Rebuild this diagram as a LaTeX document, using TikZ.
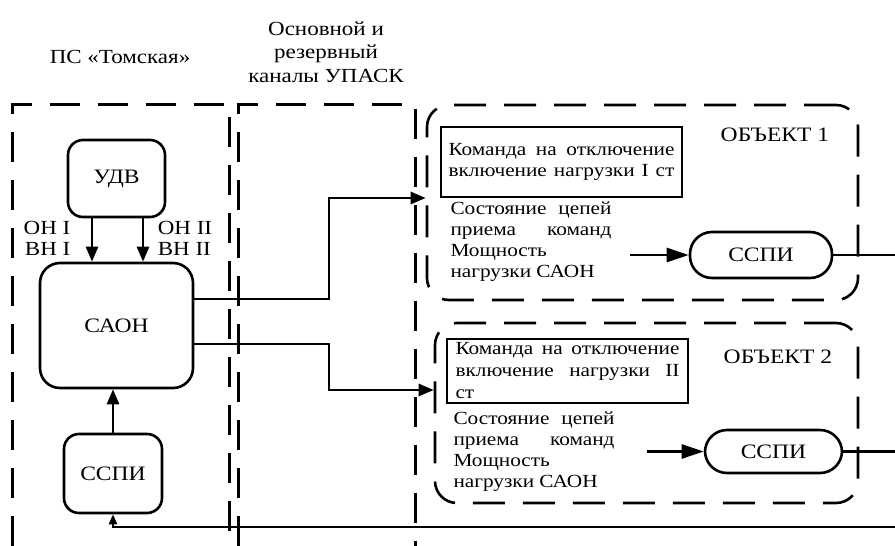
\documentclass[tikz,border=0pt]{standalone}
\usepackage{fontspec}
\setmainfont[FakeStretch=1.15]{Liberation Serif}
\usetikzlibrary{arrows.meta}
\begin{document}
\begin{tikzpicture}[x=1pt,y=-1pt,
  big/.style={font=\fontsize{20.5}{23}\selectfont},
  small/.style={font=\fontsize{18.5}{21}\selectfont},
  blk/.style={draw,line width=2.6pt,rounded corners=15pt,inner sep=0pt,big},
  objbox/.style={draw,line width=2.6pt,dash pattern=on 32pt off 18pt,rounded corners=22pt,inner sep=0pt},
  region/.style={line width=3pt,dash pattern=on 30pt off 18pt},
  cmdbox/.style={draw,line width=1.3pt,inner sep=0pt,small,align=left},
  stad/.style={draw,line width=2.6pt,rounded corners=22pt,inner sep=0pt,big},
  conn/.style={line width=2.6pt},
  arr/.style={line width=2.6pt,-{Triangle[length=15pt,width=12pt]}},
  barr/.style={line width=2.6pt,-{Triangle[length=22pt,width=14pt]}},
  sarr/.style={line width=2.6pt,-{Triangle[length=10pt,width=8pt]}},
  lbl/.style={inner sep=0pt,big,align=center}]
\useasboundingbox (0,0) rectangle (895,546);
% titles
\node[lbl,font=\fontsize{20}{23}\selectfont] (tps) at (120,57) {ПС «Томская»};
\node[lbl,font=\fontsize{20}{23.5}\selectfont] (tch) at (326,52) {Основной и\\резервный\\каналы УПАСК};
% dashed regions
\draw[region] (12,546) -- (12,104) -- (229,104) -- (229,546);
\draw[region] (238,546) -- (238,104) -- (415,104) -- (415,546);
% left side blocks
\node[blk,minimum width=97pt,minimum height=77pt] (udv) at (116.5,178.5) {УДВ};
\node[blk,rounded corners=20pt,minimum width=153pt,minimum height=125pt] (saon) at (116.5,325.5) {САОН};
\node[blk,minimum width=98pt,minimum height=79pt] (sspiL) at (113,473.5) {ССПИ};
\coordinate (c1) at (92,0);
\coordinate (c2) at (143,0);
\draw[arr] (udv.south -| c1) -- (saon.north -| c1);
\draw[arr] (udv.south -| c2) -- (saon.north -| c2);
\node[lbl,font=\fontsize{20}{21}\selectfont,align=right] (lon1) at (47,238) {ОН I\\ВН I};
\node[lbl,font=\fontsize{20}{21}\selectfont,align=left] (lon2) at (185,238) {ОН II\\ВН II};
\draw[arr] (sspiL.north) -- (saon.south -| sspiL.north);
% objects
\node[objbox,minimum width=431pt,minimum height=195pt] (obj1) at (642.5,202.5) {};
\node[objbox,minimum width=423pt,minimum height=180pt] (obj2) at (646.5,413) {};
\node[lbl] (o1t) at (775,135) {ОБЪЕКТ 1};
\node[lbl] (o2t) at (778,357) {ОБЪЕКТ 2};
\node[cmdbox,minimum width=241pt,minimum height=70pt] (cmd1) at (561.5,162)
  {\makebox[226pt][s]{Команда на отключение}\\\makebox[226pt][s]{включение нагрузки I ст}};
\node[cmdbox,minimum width=241pt,minimum height=64pt,font=\fontsize{18.5}{22}\selectfont] (cmd2) at (567.5,371)
  {\makebox[224pt][s]{Команда на отключение}\\\makebox[224pt][s]{включение нагрузки II}\\ст};
\node[inner sep=0pt,small,align=left] (st1) at (531,241.5)
  {\makebox[161pt][s]{Состояние цепей}\\\makebox[161pt][s]{приема команд}\\Мощность\\нагрузки САОН};
\node[inner sep=0pt,small,align=left] (st2) at (534,451.5)
  {\makebox[161pt][s]{Состояние цепей}\\\makebox[161pt][s]{приема команд}\\Мощность\\нагрузки САОН};
\node[stad,minimum width=142pt,minimum height=46pt] (sspi1) at (761,255) {ССПИ};
\node[stad,minimum width=137pt,minimum height=43pt] (sspi2) at (773.5,451.5) {ССПИ};
\coordinate (a1s) at (630,255);
\coordinate (a2s) at (647,451.5);
\draw[barr] (a1s) -- (sspi1.west);
\draw[barr] (a2s) -- (sspi2.west);
% right edge
\coordinate (e1) at (895,255);
\coordinate (e2) at (895,451.5);
\coordinate (e3) at (895,527);
\draw[conn] (sspi1.east) -- (e1);
\draw[conn] (sspi2.east) -- (e2);
\draw[sarr] (e3) -- (sspiL.south |- e3) -- (sspiL.south);
% saon to objects
\coordinate (s1) at (193,299);
\coordinate (s2) at (193,344);
\coordinate (t1) at (0,198);
\coordinate (t2) at (0,390);
\draw[arr] (s1) -- (329,299) -- (329,198) -- (obj1.west |- t1);
\draw[arr] (s2) -- (329,344) -- (329,390) -- (obj2.west |- t2);
\end{tikzpicture}
\end{document}
